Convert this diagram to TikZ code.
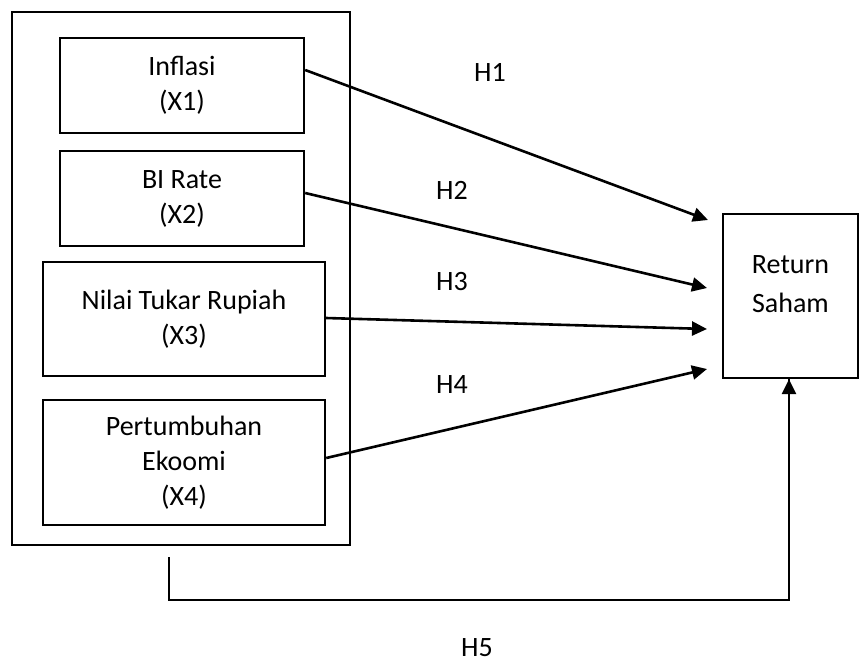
\documentclass[tikz,border=0pt]{standalone}
\usepackage{fontspec}
\setmainfont{Carlito}
\usetikzlibrary{arrows.meta}
\tikzset{
  varbox/.style={draw, line width=1.2pt, align=center, inner sep=0pt,
    font=\fontsize{14}{17.5}\selectfont},
  hyp/.style={font=\fontsize{14}{16}\selectfont},
  link/.style={line width=1.3pt, -{Triangle[length=7.5pt,width=7pt]}}
}
\begin{document}
\begin{tikzpicture}[x=0.5pt,y=-0.5pt]
	\useasboundingbox (0,0) rectangle (859,661);
	% outer frame
	\draw[line width=1.2pt] (12,12) rectangle (350,545);
	\node[varbox, minimum width=122pt, minimum height=47.5pt] (inf) at (182,85.5) {Inflasi\\(X1)};
	\node[varbox, minimum width=122pt, minimum height=47.5pt] (bi) at (182,198.5) {BI Rate\\(X2)};
	\node[varbox, minimum width=141pt, minimum height=57pt] (kurs) at (184,319) {Nilai Tukar Rupiah\\(X3)};
	\node[varbox, minimum width=141pt, minimum height=62.5pt] (eko) at (184,462.5) {Pertumbuhan\\Ekoomi\\(X4)};
	\node[varbox, minimum width=67.5pt, minimum height=82pt, text depth=12pt,
	  font=\fontsize{14}{19.5}\selectfont] (ret) at (790.5,296) {Return\\Saham};
	% hypotheses
	\draw[link] (inf.east |- 0,70) -- (708,220);
	\draw[link] (bi.east |- 0,193) -- (707,288);
	\draw[link] (kurs.east |- 0,318) -- (707,329);
	\draw[link] (eko.east |- 0,458) -- (707,369);
	\coordinate (c1) at (169,557);
	\coordinate (c2) at (169,600);
	\draw[line width=0.6pt] (c1) -- (c2) -| (ret.south -| 789,0);
	\draw[link] (789,560) -- (ret.south -| 789,0);
	\node[hyp] (h1) at (490,72) {H1};
	\node[hyp] (h2) at (452,190) {H2};
	\node[hyp] (h3) at (452,281) {H3};
	\node[hyp] (h4) at (452,385) {H4};
	\node[hyp] (h5) at (477,648) {H5};
\end{tikzpicture}
\end{document}
